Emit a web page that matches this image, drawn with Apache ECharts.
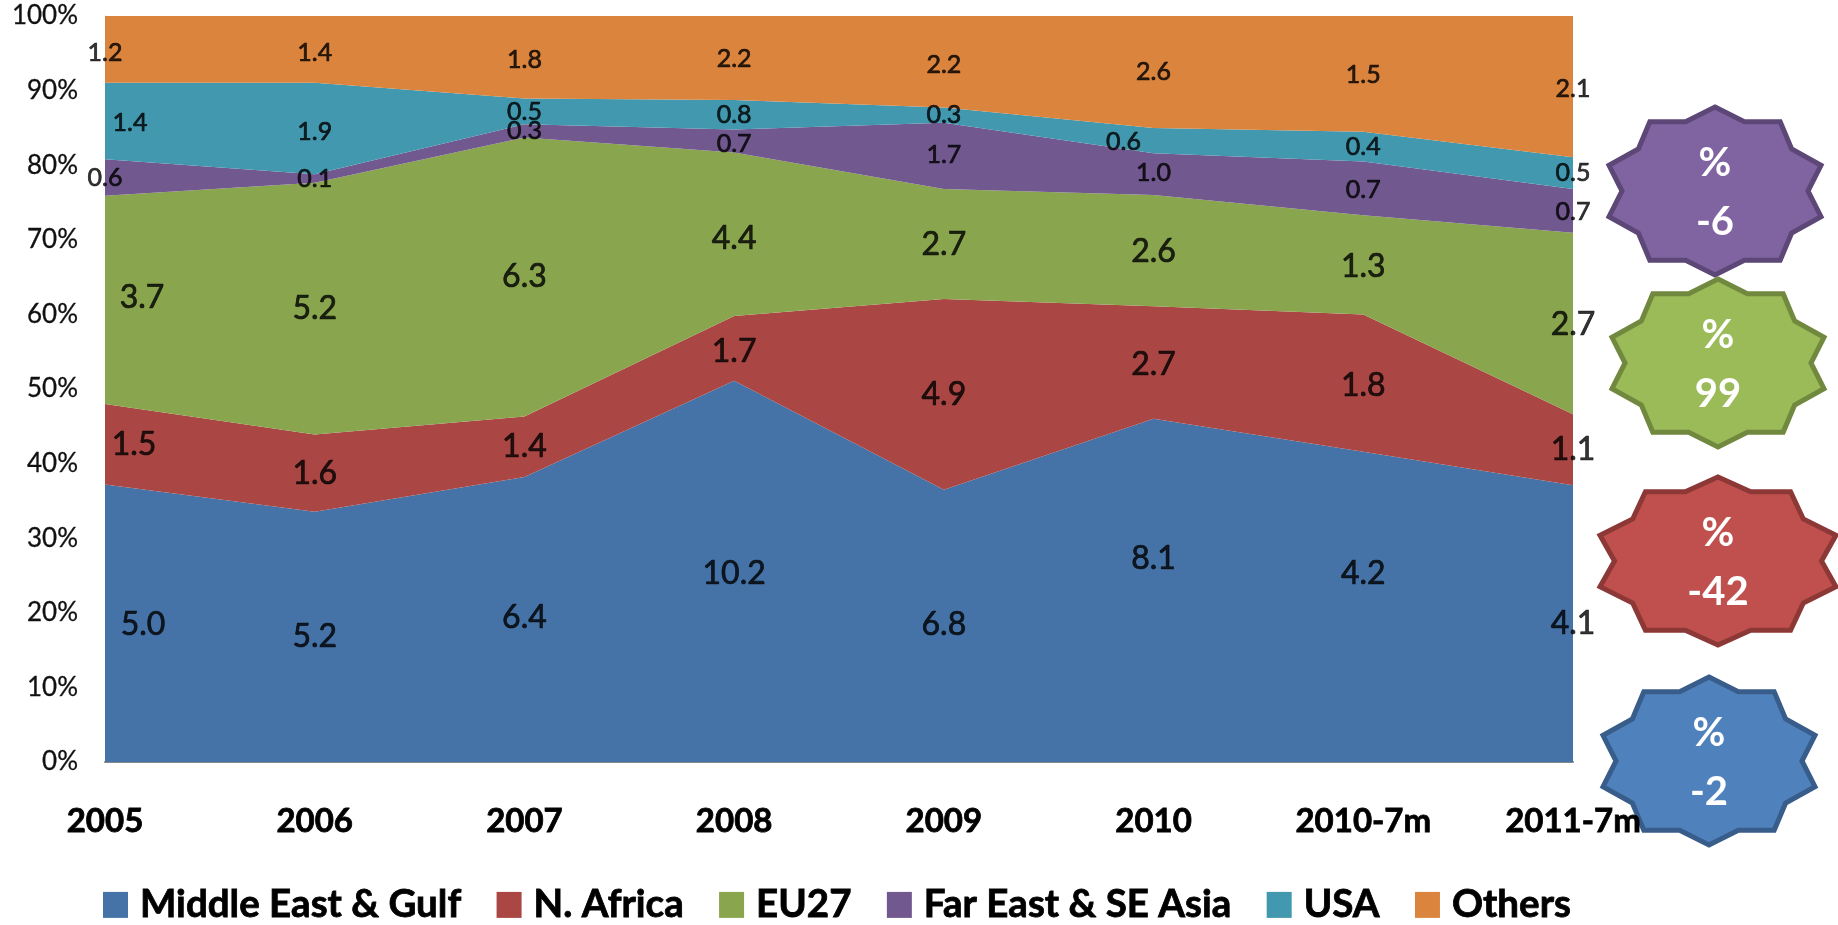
<html lang="en">
<head>
    <meta charset="UTF-8">
    <title>Exports by destination</title>
    <script src="https://cdn.jsdelivr.net/npm/echarts@6/dist/echarts.min.js"></script>
</head>
<style>
    html, body { margin: 0; background: #fff; }
    #container { width: 1838px; height: 925px; }
</style>
<body>
<div id="container"></div>
<script>
    var categories = ['2005', '2006', '2007', '2008', '2009', '2010', '2010-7m', '2011-7m'];
    var seriesNames = ['Middle East & Gulf', 'N. Africa', 'EU27', 'Far East & SE Asia', 'USA', 'Others'];

    // share of each year in %
    var middleEast = [37.2, 33.55, 38.2, 51.1, 36.5, 46.0, 41.6, 37.1];
    var nAfrica = [10.8, 10.35, 8.1, 8.7, 25.55, 15.1, 18.4, 9.5];
    var eu27 = [27.9, 33.75, 37.4, 21.9, 14.75, 14.9, 13.3, 24.35];
    var farEast = [4.9, 1.15, 1.8, 3.1, 8.9, 5.6, 7.2, 5.85];
    var usa = [10.25, 12.25, 3.45, 3.95, 2.05, 3.4, 4.0, 4.25];
    var others = [8.95, 8.95, 11.05, 11.25, 12.25, 15.0, 15.5, 18.95];
    var shares = [middleEast, nAfrica, eu27, farEast, usa, others];

    // the numbers printed on the bands
    var printedValues = [
        [5.0, 5.2, 6.4, 10.2, 6.8, 8.1, 4.2, 4.1],
        [1.5, 1.6, 1.4, 1.7, 4.9, 2.7, 1.8, 1.1],
        [3.7, 5.2, 6.3, 4.4, 2.7, 2.6, 1.3, 2.7],
        [0.6, 0.1, 0.3, 0.7, 1.7, 1.0, 0.7, 0.7],
        [1.4, 1.9, 0.5, 0.8, 0.3, 0.6, 0.4, 0.5],
        [1.2, 1.4, 1.8, 2.2, 2.2, 2.6, 1.5, 2.1]
    ];

    var colors = ['#4573a7', '#aa4643', '#89a54e', '#71588f', '#4298af', '#db843d'];

    // where each printed number sits: height on the % axis, and pixels right of its category
    var labelHeights = [
        [18.4, 16.8, 19.3, 25.3, 18.4, 27.2, 25.2, 18.6],
        [42.5, 38.7, 42.3, 55.0, 49.2, 53.2, 50.5, 41.8],
        [62.3, 60.7, 65.0, 70.2, 69.4, 68.4, 66.4, 58.6],
        [78.3, 78.1, 84.6, 82.9, 81.4, 78.9, 76.7, 73.8],
        [85.6, 84.4, 87.2, 86.7, 86.7, 83.1, 82.5, 79.0],
        [95.0, 95.0, 94.1, 94.2, 93.4, 92.5, 92.1, 90.2]
    ];
    var labelShifts = [
        [38, 0, 0, 0, 0, 0, 0, 0],
        [29, 0, 0, 0, 0, 0, 0, 0],
        [37, 0, 0, 0, 0, 0, 0, 0],
        [0, 0, 0, 0, 0, 0, 0, 0],
        [25, 0, 0, 0, 0, -30, 0, 0],
        [0, 0, 0, 0, 0, 0, 0, 0]
    ];
    var labelSizes = [32, 32, 32, 25, 25, 25];

    // the four change badges on the right
    var badges = [
        {text: '-6', x: 1715, y: 191, rx: 106, ry: 84, fill: '#8064a2', stroke: '#5c4776'},
        {text: '99', x: 1718, y: 363, rx: 106, ry: 84, fill: '#9bbb59', stroke: '#71893f'},
        {text: '-42', x: 1718, y: 561, rx: 118, ry: 84, fill: '#c0504d', stroke: '#8c3836'},
        {text: '-2', x: 1709, y: 761, rx: 106, ry: 84, fill: '#4f81bd', stroke: '#385d8a'}
    ];
    // ten pointed star, unit size, clockwise from the top
    var badgeOutline = [
        [0, -1], [0.277, -0.825], [0.615, -0.825], [0.723, -0.5], [1, -0.306],
        [0.877, 0], [1, 0.306], [0.723, 0.5], [0.615, 0.825], [0.277, 0.825],
        [0, 1], [-0.277, 0.825], [-0.615, 0.825], [-0.723, 0.5], [-1, 0.306],
        [-0.877, 0], [-1, -0.306], [-0.723, -0.5], [-0.615, -0.825], [-0.277, -0.825]
    ];

    var fontName = 'Lato';

    var series = [];
    seriesNames.forEach(function (name, s)
    {
        series.push({
            name: name,
            type: 'line',
            stack: 'share',
            symbol: 'none',
            itemStyle: {color: colors[s]},
            lineStyle: {width: 0},
            areaStyle: {color: colors[s], opacity: 1},
            data: shares[s]
        });
    });

    // value labels
    seriesNames.forEach(function (name, s)
    {
        series.push({
            type: 'scatter',
            symbolSize: 0,
            z: 5,
            data: printedValues[s].map(function (v, i)
            {
                return {
                    value: [i, labelHeights[s][i]],
                    label: {
                        show: true,
                        position: 'inside',
                        formatter: v.toFixed(1),
                        offset: [labelShifts[s][i], 0],
                        fontFamily: fontName,
                        fontSize: labelSizes[s],
                        color: '#000',
                        textBorderColor: '#000',
                        textBorderWidth: 0.7
                    }
                };
            })
        });
    });

    var graphics = [];
    badges.forEach(function (b)
    {
        graphics.push({
            type: 'polygon',
            shape: {points: badgeOutline.map(function (p) { return [b.x + p[0] * b.rx, b.y + p[1] * b.ry]; })},
            style: {fill: b.fill, stroke: b.stroke, lineWidth: 5, lineJoin: 'miter'}
        });
        ['%', b.text].forEach(function (t, k)
        {
            graphics.push({
                type: 'text',
                x: b.x,
                y: b.y + (k === 0 ? -28 : 31),
                style: {text: t, fill: '#fff', font: 'bold 40px ' + fontName, align: 'center', verticalAlign: 'middle'}
            });
        });
    });

    var chart = echarts.init(document.getElementById('container'));
    var option = {
        animation: false,
        grid: {left: 105, right: 265, top: 16, bottom: 163},
        legend: {
            data: seriesNames,
            left: 103,
            top: 885,
            padding: 0,
            icon: 'rect',
            itemWidth: 25,
            itemHeight: 26,
            itemGap: 35,
            textStyle: {
                fontFamily: fontName,
                fontWeight: 'bold',
                fontSize: 38.5,
                color: '#000',
                textBorderColor: '#000',
                textBorderWidth: 0.8,
                padding: [0, 0, 0, 7]
            }
        },
        xAxis: {
            type: 'category',
            boundaryGap: false,
            data: categories,
            axisTick: {show: false},
            axisLine: {lineStyle: {color: '#868686', width: 2}},
            axisLabel: {
                interval: 0,
                margin: 43,
                fontFamily: fontName,
                fontWeight: 'bold',
                fontSize: 33,
                color: '#000',
                textBorderColor: '#000',
                textBorderWidth: 0.8
            }
        },
        yAxis: {
            type: 'value',
            min: 0,
            max: 100,
            interval: 10,
            splitLine: {show: false},
            axisTick: {show: false},
            axisLine: {show: true, lineStyle: {color: '#bbb', width: 1}},
            axisLabel: {
                margin: 27,
                padding: [3, 0, 0, 0],
                verticalAlignMinLabel: 'middle',
                verticalAlignMaxLabel: 'middle',
                formatter: '{value}%',
                fontFamily: fontName,
                fontSize: 26,
                color: '#111',
                textBorderColor: '#111',
                textBorderWidth: 0.3
            }
        },
        graphic: graphics,
        series: series
    };
    chart.setOption(option);
</script>
</body>
</html>
